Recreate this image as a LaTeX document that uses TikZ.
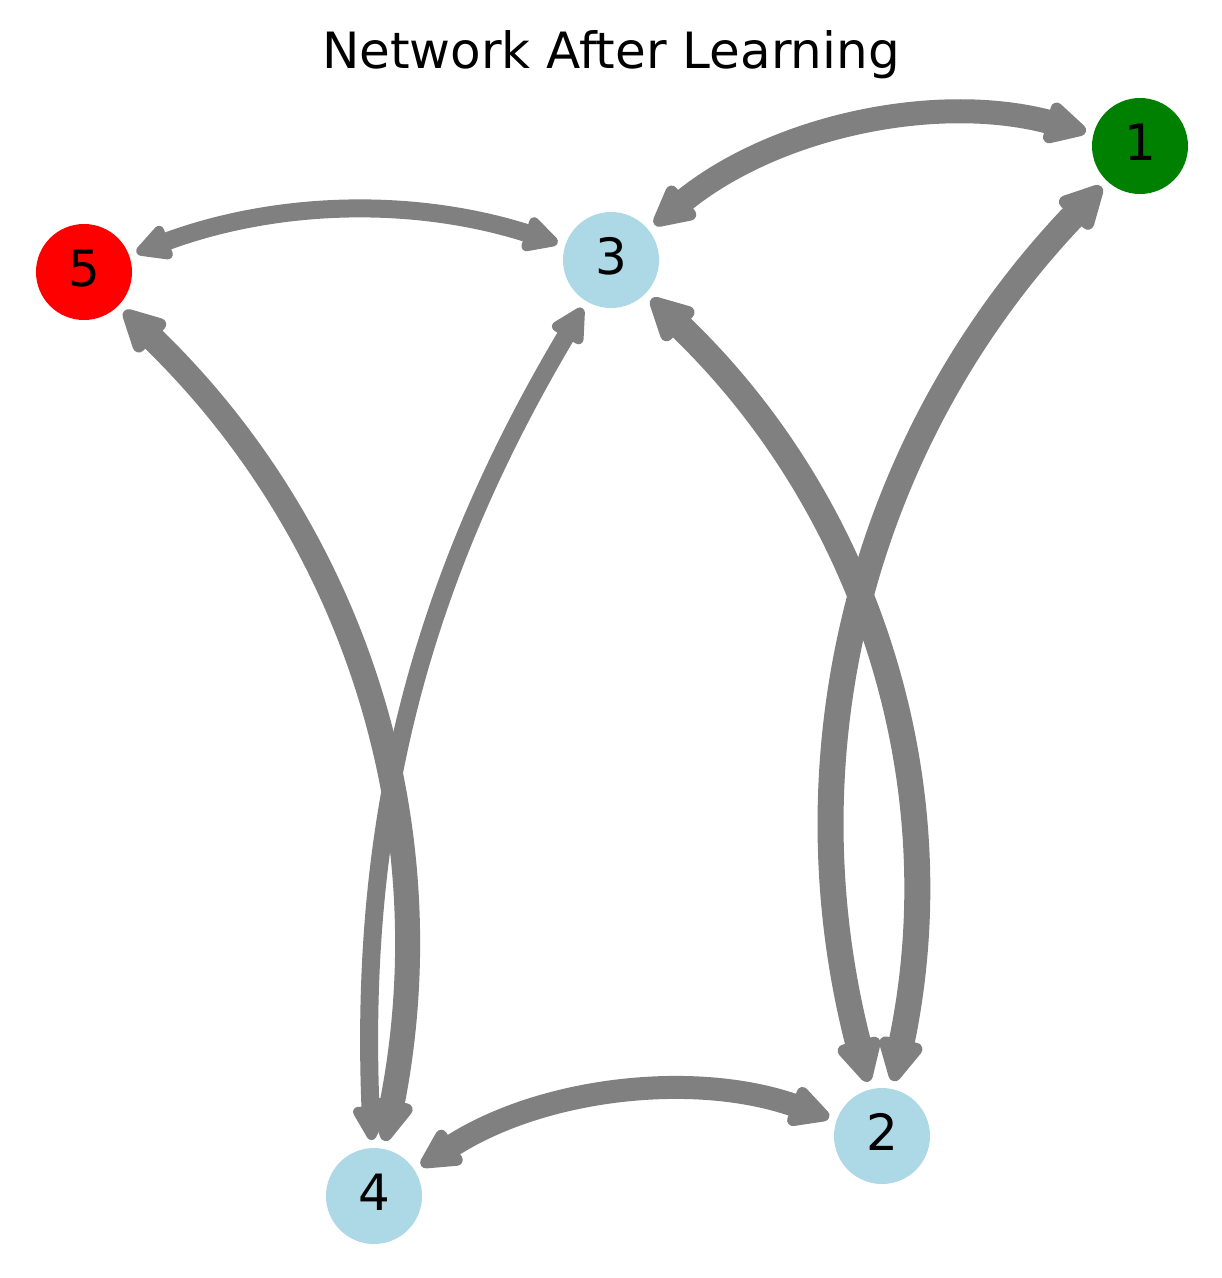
\documentclass[tikz,border=0pt]{standalone}
\usepackage{fontspec}
\setmainfont{DejaVu Sans}
\usetikzlibrary{arrows.meta}
\definecolor{nodeblue}{HTML}{ADD8E6}
\definecolor{nodegreen}{HTML}{008000}
\definecolor{nodered}{HTML}{FF0000}
\definecolor{edgegray}{HTML}{808080}
\begin{document}
\begin{tikzpicture}[x=1bp,y=-1bp,
  vertex/.style={circle, minimum size=96bp, inner sep=0pt, text depth=8bp,
    font=\fontsize{50.19}{60}\selectfont, text=black},
  link/.style={draw=edgegray, line width=#1, shorten >=56bp, shorten <=56bp,
    arrows={Triangle[length=17bp 1.3,width=17bp 1.2,round]-Triangle[length=17bp 1.3,width=17bp 1.2,round]}},
]
\useasboundingbox (0,0) rectangle (1222,1278);
\node[anchor=base, font=\fontsize{50.19}{60}\selectfont] (title) at (611,68) {Network After Learning};

\node[vertex, fill=nodegreen] (n1) at (1140,146) {1};
\node[vertex, fill=nodeblue]  (n2) at (882,1136) {2};
\node[vertex, fill=nodeblue]  (n3) at (611,260) {3};
\node[vertex, fill=nodeblue]  (n4) at (374,1196) {4};
\node[vertex, fill=nodered]   (n5) at (84,272) {5};

\draw[link=24bp] (n3.center) to[bend left=27] (n1.center);
\draw[link=18bp] (n5.center) to[bend left=19] (n3.center);
\draw[link=23bp] (n4.center) to[bend left=26] (n2.center);
\draw[link=26bp] (n3.center) to[bend left=29] (n2.center);
\draw[link=25bp] (n5.center) to[bend left=28.5] (n4.center);
\draw[link=26bp] (n2.center) to[bend left=29] (n1.center);
\draw[link=18bp] (n4.center) to[bend left=16.5] (n3.center);
\end{tikzpicture}
\end{document}
